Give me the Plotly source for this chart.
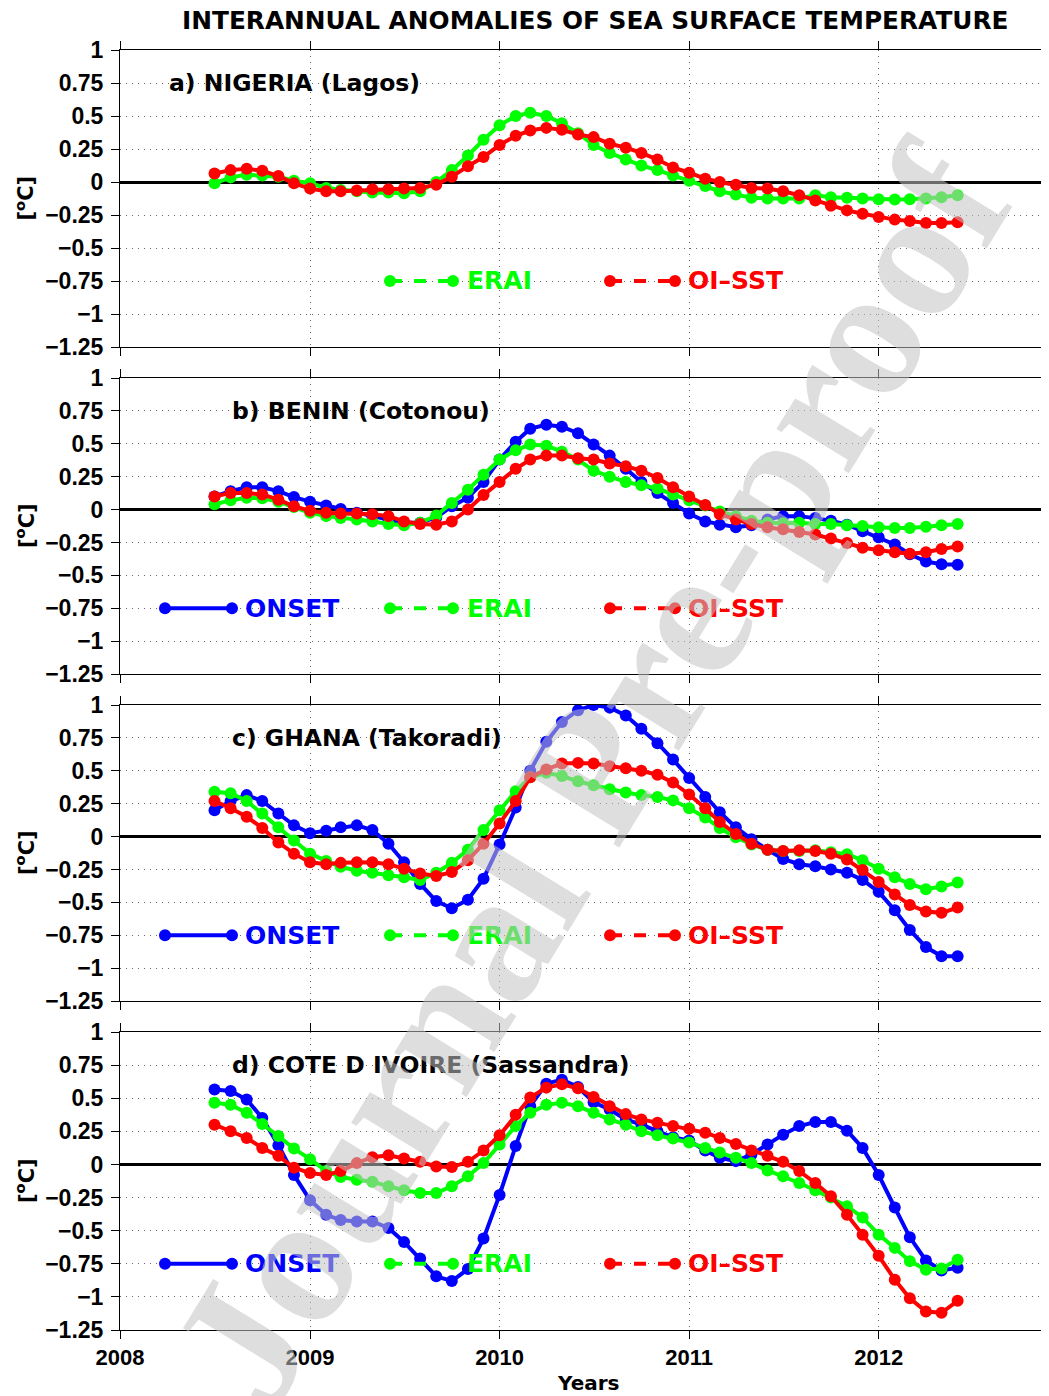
import plotly.graph_objects as go
import pandas as pd

# ---------------- data (monthly, Jul 2008 .. Jun 2012) ----------------
start_month = "2008-07-01"
n_months = 48
months = pd.date_range(start_month, periods=n_months, freq="MS")

nigeria_erai = [-0.01, 0.035, 0.055, 0.05, 0.04, 0.01, -0.01, -0.045, -0.06, -0.07, -0.08, -0.08,
                -0.085, -0.07, 0.0, 0.09, 0.2, 0.32, 0.43, 0.5, 0.525, 0.5, 0.445, 0.37,
                0.28, 0.22, 0.17, 0.125, 0.09, 0.05, 0.01, -0.03, -0.07, -0.095, -0.12, -0.125,
                -0.125, -0.125, -0.1, -0.115, -0.12, -0.125, -0.13, -0.133, -0.13, -0.125, -0.115, -0.1]
nigeria_oisst = [0.065, 0.09, 0.1, 0.085, 0.045, -0.01, -0.05, -0.07, -0.07, -0.065, -0.055, -0.055,
                 -0.05, -0.045, -0.02, 0.04, 0.12, 0.19, 0.28, 0.35, 0.39, 0.41, 0.395, 0.36,
                 0.34, 0.29, 0.26, 0.22, 0.17, 0.11, 0.07, 0.025, 0.0, -0.02, -0.045, -0.05,
                 -0.07, -0.1, -0.14, -0.18, -0.215, -0.24, -0.265, -0.285, -0.295, -0.31, -0.31, -0.305]

benin_onset = [0.1, 0.14, 0.17, 0.17, 0.14, 0.095, 0.06, 0.03, 0.005, -0.025, -0.05, -0.075,
               -0.1, -0.1, -0.06, 0.025, 0.09, 0.21, 0.38, 0.515, 0.615, 0.645, 0.63, 0.58,
               0.495, 0.41, 0.31, 0.21, 0.125, 0.05, -0.03, -0.09, -0.115, -0.135, -0.12, -0.075,
               -0.05, -0.05, -0.065, -0.085, -0.115, -0.165, -0.21, -0.265, -0.34, -0.395, -0.415, -0.42]
benin_erai = [0.04, 0.07, 0.09, 0.085, 0.06, 0.02, -0.025, -0.05, -0.065, -0.075, -0.09, -0.11,
              -0.12, -0.1, -0.045, 0.05, 0.15, 0.265, 0.38, 0.45, 0.495, 0.485, 0.44, 0.38,
              0.295, 0.25, 0.21, 0.185, 0.16, 0.115, 0.07, 0.03, -0.015, -0.05, -0.085, -0.1,
              -0.105, -0.1, -0.11, -0.11, -0.12, -0.125, -0.135, -0.14, -0.14, -0.13, -0.12, -0.11]
benin_oisst = [0.1, 0.125, 0.125, 0.115, 0.075, 0.025, -0.01, -0.025, -0.03, -0.03, -0.035, -0.05,
               -0.09, -0.11, -0.115, -0.09, 0.0, 0.11, 0.21, 0.31, 0.38, 0.41, 0.41, 0.39,
               0.38, 0.35, 0.33, 0.295, 0.24, 0.17, 0.1, 0.035, -0.035, -0.075, -0.11, -0.135,
               -0.15, -0.17, -0.19, -0.22, -0.255, -0.29, -0.31, -0.325, -0.335, -0.325, -0.3, -0.28]

ghana_onset = [0.2, 0.27, 0.315, 0.27, 0.175, 0.085, 0.025, 0.045, 0.07, 0.085, 0.05, -0.055,
               -0.195, -0.36, -0.49, -0.545, -0.48, -0.32, -0.06, 0.22, 0.5, 0.72, 0.87, 0.96,
               1.0, 0.98, 0.92, 0.82, 0.71, 0.585, 0.445, 0.3, 0.185, 0.07, -0.02, -0.1,
               -0.17, -0.21, -0.225, -0.25, -0.275, -0.33, -0.42, -0.56, -0.71, -0.84, -0.91, -0.91]
ghana_erai = [0.34, 0.33, 0.27, 0.175, 0.07, -0.03, -0.13, -0.185, -0.23, -0.26, -0.275, -0.295,
              -0.31, -0.33, -0.275, -0.2, -0.1, 0.05, 0.2, 0.345, 0.45, 0.485, 0.46, 0.42,
              0.39, 0.36, 0.335, 0.315, 0.3, 0.275, 0.215, 0.145, 0.065, -0.005, -0.06, -0.1,
              -0.11, -0.11, -0.105, -0.12, -0.135, -0.18, -0.245, -0.31, -0.36, -0.4, -0.38, -0.35]
ghana_oisst = [0.27, 0.215, 0.15, 0.065, -0.045, -0.13, -0.195, -0.21, -0.2, -0.195, -0.195, -0.21,
               -0.245, -0.28, -0.3, -0.27, -0.18, -0.055, 0.1, 0.27, 0.45, 0.51, 0.555, 0.56,
               0.555, 0.535, 0.52, 0.5, 0.47, 0.41, 0.32, 0.215, 0.11, 0.02, -0.055, -0.1,
               -0.11, -0.105, -0.11, -0.13, -0.175, -0.255, -0.345, -0.44, -0.52, -0.57, -0.58, -0.54]

civ_onset = [0.565, 0.555, 0.49, 0.35, 0.145, -0.08, -0.27, -0.38, -0.42, -0.43, -0.43, -0.48,
             -0.585, -0.71, -0.845, -0.88, -0.79, -0.56, -0.23, 0.14, 0.44, 0.61, 0.64, 0.585,
             0.47, 0.415, 0.34, 0.3, 0.25, 0.205, 0.18, 0.105, 0.05, 0.025, 0.075, 0.15,
             0.225, 0.29, 0.32, 0.32, 0.255, 0.125, -0.08, -0.325, -0.55, -0.725, -0.8, -0.78]
civ_erai = [0.465, 0.45, 0.39, 0.305, 0.215, 0.12, 0.04, -0.05, -0.095, -0.115, -0.13, -0.165,
            -0.195, -0.215, -0.215, -0.165, -0.09, 0.01, 0.15, 0.29, 0.39, 0.45, 0.465, 0.44,
            0.39, 0.34, 0.3, 0.25, 0.22, 0.195, 0.165, 0.125, 0.09, 0.05, 0.01, -0.045,
            -0.09, -0.14, -0.195, -0.25, -0.315, -0.4, -0.53, -0.63, -0.73, -0.795, -0.785, -0.72]
civ_oisst = [0.3, 0.25, 0.2, 0.125, 0.065, -0.025, -0.065, -0.08, -0.05, 0.01, 0.055, 0.07,
             0.045, 0.02, -0.015, -0.02, 0.02, 0.105, 0.22, 0.375, 0.505, 0.58, 0.605, 0.575,
             0.51, 0.44, 0.38, 0.34, 0.315, 0.29, 0.27, 0.24, 0.2, 0.155, 0.105, 0.065,
             0.02, -0.05, -0.14, -0.24, -0.38, -0.53, -0.69, -0.87, -1.01, -1.11, -1.12, -1.03]

panel_titles = ["a) NIGERIA (Lagos)", "b) BENIN (Cotonou)", "c) GHANA (Takoradi)",
                "d) COTE D IVOIRE (Sassandra)"]
onset_series = [None, benin_onset, ghana_onset, civ_onset]
erai_series = [nigeria_erai, benin_erai, ghana_erai, civ_erai]
oisst_series = [nigeria_oisst, benin_oisst, ghana_oisst, civ_oisst]

series_names = ["ONSET", "ERAI", "OI\u2013SST"]
series_colors = ["#0000ff", "#00ff00", "#ff0000"]
series_dash = ["solid", "dash", "dash"]

ytick_vals = [1, 0.75, 0.5, 0.25, 0, -0.25, -0.5, -0.75, -1, -1.25]
ytick_text = ["1", "0.75", "0.5", "0.25", "0", "\u22120.25", "\u22120.5", "\u22120.75", "\u22121", "\u22121.25"]
year_ticks = ["2008-01-01", "2009-01-01", "2010-01-01", "2011-01-01", "2012-01-01"]
year_labels = ["2008", "2009", "2010", "2011", "2012"]

main_title = "INTERANNUAL ANOMALIES OF SEA SURFACE TEMPERATURE"
y_title = "[<sup>o</sup>C]"
x_title = "Years"
watermark = "Journal Pre-proof"

# ---------------- layout geometry ----------------
OFF = 8                      # page body margin of the html page
W, H = 1049 - OFF, 1396 - OFF
LEFT = 120 - OFF
PW = W - LEFT                # plot-area width (px)
panel_px = [(50, 347), (378, 674), (705, 1001), (1032, 1330)]   # screen px (top, bottom)
FONT = "DejaVu Sans"
TICKFONT = "Liberation Sans"


def px_x(p):          # screen x -> paper / domain fraction
    return (p - OFF - LEFT) / PW


def px_y(p):          # screen y -> paper fraction
    return 1 - (p - OFF) / H


fig = go.Figure()

for i in range(4):
    xa = "x" if i == 0 else f"x{i+1}"
    ya = "y" if i == 0 else f"y{i+1}"
    data = [onset_series[i], erai_series[i], oisst_series[i]]
    for name, vals, col in zip(series_names, data, series_colors):
        if vals is None:
            continue
        fig.add_trace(go.Scatter(
            x=months, y=vals, mode="lines+markers", name=name, showlegend=False,
            xaxis=xa, yaxis=ya,
            line=dict(color=col, width=4),
            marker=dict(color=col, size=12, line=dict(width=0)),
        ))

    top, bot = panel_px[i]
    dom = [px_y(bot), px_y(top)]
    xkey = "xaxis" if i == 0 else f"xaxis{i+1}"
    ykey = "yaxis" if i == 0 else f"yaxis{i+1}"
    fig.layout[xkey] = dict(
        domain=[0, 1], anchor=ya, type="date",
        range=["2008-01-01", "2012-11-24"],
        tickvals=year_ticks, ticktext=year_labels, showticklabels=(i == 3),
        ticks="outside", ticklen=8, tickwidth=1, tickcolor="black",
        showline=True, linecolor="black", linewidth=1, mirror="ticks",
        showgrid=True, gridcolor="#666666", griddash="1px,5px", gridwidth=1,
        tickfont=dict(family=TICKFONT, size=22, color="black", weight="bold"),
        automargin=False,
    )
    fig.layout[ykey] = dict(
        domain=dom, anchor=xa, range=[-1.25, 1],
        tickvals=ytick_vals, ticktext=ytick_text,
        ticks="outside", ticklen=8, tickwidth=1, tickcolor="black",
        showline=True, linecolor="black", linewidth=1,
        showgrid=True, gridcolor="#666666", griddash="1px,5px", gridwidth=1,
        zeroline=True, zerolinecolor="black", zerolinewidth=2.5,
        tickfont=dict(family=TICKFONT, size=23, color="black", weight="bold"),
        ticklabelstandoff=3,
        automargin=False,
    )

    xd = f"{xa} domain"
    # panel label
    fig.add_annotation(x=px_x(167 if i == 0 else 230), xref=xd, y=0.75, yref=ya,
                       text=panel_titles[i], showarrow=False, xanchor="left", yanchor="middle",
                       font=dict(family=FONT, size=23.5, color="black", weight="bold"))
    # y title
    fig.add_annotation(x=px_x(25), xref="paper", y=(dom[0] + dom[1]) / 2, yref="paper",
                       text=y_title, showarrow=False, textangle=-90,
                       xanchor="center", yanchor="middle",
                       font=dict(family=FONT, size=21, color="black", weight="bold"))

    # in-panel legend
    leg_x = [(165, 232, 243), (390, 453, 465), (610, 675, 686)]
    for j, (name, col, dash) in enumerate(zip(series_names, series_colors, series_dash)):
        if data[j] is None:
            continue
        x0 = px_x(leg_x[j][0])
        x1 = px_x(leg_x[j][1])
        fig.add_shape(type="line", xref=xd, yref=ya, x0=x0, x1=x1, y0=-0.75, y1=-0.75,
                      line=dict(color=col, width=4, dash=dash))
        for xc in (x0, x1):
            fig.add_shape(type="circle", xref=xd, yref=ya, xsizemode="pixel", ysizemode="pixel",
                          xanchor=xc, yanchor=-0.75, x0=-6, x1=6, y0=-6, y1=6,
                          fillcolor=col, line=dict(color=col, width=0))
        fig.add_annotation(x=px_x(leg_x[j][2]), xref=xd, y=-0.75, yref=ya,
                           text=name, showarrow=False, xanchor="left", yanchor="middle",
                           font=dict(family=FONT, size=25, color=col, weight="bold"))

# main title and x title
fig.add_annotation(x=px_x(595), xref="paper", y=px_y(21), yref="paper",
                   text=main_title, showarrow=False, xanchor="center", yanchor="middle",
                   font=dict(family=FONT, size=24.8, color="black", weight="bold"))
fig.add_annotation(x=px_x(588), xref="paper", y=px_y(1383), yref="paper",
                   text=x_title, showarrow=False, xanchor="center", yanchor="middle",
                   font=dict(family=FONT, size=20, color="black", weight="bold"))

# watermark
fig.add_annotation(x=px_x(590), xref="paper", y=px_y(775), yref="paper",
                   text=watermark, showarrow=False, textangle=-58.5,
                   xanchor="center", yanchor="middle",
                   font=dict(family="Liberation Serif", size=185, color="rgba(195,195,195,0.55)",
                             weight="bold"))

fig.update_layout(
    width=W, height=H, margin=dict(l=LEFT, r=0, t=0, b=0),
    paper_bgcolor="white", plot_bgcolor="white", showlegend=False,
)

fig.write_html("out.html")
